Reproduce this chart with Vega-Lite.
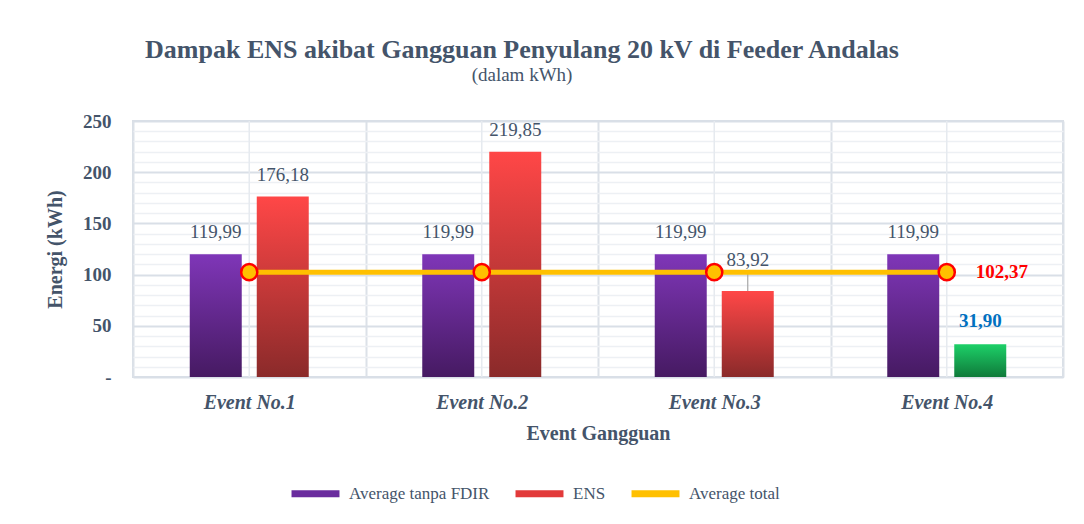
{
  "$schema": "https://vega.github.io/schema/vega-lite/v6.json",
  "width": 930,
  "height": 256,
  "autosize": {"type": "none"},
  "padding": {"left": 133, "top": 121, "right": 21, "bottom": 147},
  "background": "white",
  "config": {
    "locale": {"number": {"decimal": ",", "thousands": ".", "grouping": [3], "currency": ["", ""]}},
    "font": "Liberation Serif",
    "view": {"stroke": "#D9DEE6", "strokeWidth": 2},
    "title": {"font": "Liberation Serif", "color": "#44546A"}
  },
  "title": {
    "text": "Dampak ENS akibat Gangguan Penyulang 20 kV di Feeder Andalas",
    "subtitle": "(dalam kWh)",
    "fontSize": 26,
    "fontWeight": "bold",
    "subtitleFontSize": 19,
    "subtitleColor": "#44546A",
    "subtitleFont": "Liberation Serif",
    "subtitlePadding": 3,
    "anchor": "middle",
    "dx": -76,
    "offset": 27
  },
  "datasets": {
    "bars": [
      {"Event": "Event No.1", "Series": "Average tanpa FDIR", "Value": 119.99},
      {"Event": "Event No.1", "Series": "ENS", "Value": 176.18},
      {"Event": "Event No.2", "Series": "Average tanpa FDIR", "Value": 119.99},
      {"Event": "Event No.2", "Series": "ENS", "Value": 219.85},
      {"Event": "Event No.3", "Series": "Average tanpa FDIR", "Value": 119.99},
      {"Event": "Event No.3", "Series": "ENS", "Value": 83.92},
      {"Event": "Event No.4", "Series": "Average tanpa FDIR", "Value": 119.99},
      {"Event": "Event No.4", "Series": "ENS", "Value": 31.90}
    ],
    "avg": [
      {"Event": "Event No.1", "Series": "Average total", "Value": 102.37},
      {"Event": "Event No.2", "Series": "Average total", "Value": 102.37},
      {"Event": "Event No.3", "Series": "Average total", "Value": 102.37},
      {"Event": "Event No.4", "Series": "Average total", "Value": 102.37}
    ]
  },
  "encoding": {
    "x": {
      "field": "Event",
      "type": "nominal",
      "sort": null,
      "scale": {"paddingInner": 0, "paddingOuter": 0},
      "axis": {
        "title": "Event Gangguan",
        "titleFontSize": 20,
        "titleFontWeight": "bold",
        "titleColor": "#44546A",
        "titlePadding": 11,
        "labelAngle": 0,
        "labelFontSize": 20,
        "labelFontWeight": "bold",
        "labelFontStyle": "italic",
        "labelColor": "#44546A",
        "labelPadding": 15,
        "domain": false,
        "ticks": false,
        "grid": true,
        "tickBand": "extent",
        "gridColor": "#DCE1E8",
        "gridWidth": 2
      }
    },
    "y": {
      "field": "Value",
      "type": "quantitative",
      "scale": {"domain": [0, 250], "nice": false},
      "axis": {
        "title": "Energi (kWh)",
        "titleFontSize": 20,
        "titleFontWeight": "bold",
        "titleColor": "#44546A",
        "titlePadding": 17,
        "values": [0, 10, 20, 30, 40, 50, 60, 70, 80, 90, 100, 110, 120, 130, 140, 150, 160, 170, 180, 190, 200, 210, 220, 230, 240, 250],
        "labelExpr": "datum.value % 50 == 0 ? (datum.value == 0 ? '-' : datum.label) : ''",
        "labelFontSize": 19,
        "labelFontWeight": "bold",
        "labelColor": "#44546A",
        "labelPadding": 22,
        "domain": false,
        "ticks": false,
        "grid": true,
        "gridColor": {"condition": {"test": "datum.value % 50 == 0", "value": "#D9DFE7"}, "value": "#EDF0F4"},
        "gridWidth": {"condition": {"test": "datum.value % 50 == 0", "value": 2}, "value": 1.5}
      }
    }
  },
  "layer": [
    {
      "data": {"name": "avg"},
      "mark": {"type": "rule", "color": "#E6EAEF", "strokeWidth": 1.5},
      "encoding": {"y": null}
    },
    {
      "data": {"name": "bars"},
      "transform": [{"filter": "datum.Series == 'Average tanpa FDIR'"}],
      "mark": {"type": "bar", "color": {"gradient": "linear", "x1": 0, "y1": 0, "x2": 0, "y2": 1, "stops": [{"offset": 0, "color": "#7F36B8"}, {"offset": 1, "color": "#461A62"}]}},
      "encoding": {
        "xOffset": {"field": "Series", "type": "nominal", "scale": {"domain": ["Average tanpa FDIR", "ENS"], "paddingInner": 0.224, "paddingOuter": 0.847}}
      }
    },
    {
      "data": {"name": "bars"},
      "transform": [{"filter": "datum.Series == 'ENS' && datum.Event != 'Event No.4'"}],
      "mark": {"type": "bar", "color": {"gradient": "linear", "x1": 0, "y1": 0, "x2": 0, "y2": 1, "stops": [{"offset": 0, "color": "#FF4747"}, {"offset": 1, "color": "#8A2A2A"}]}},
      "encoding": {"xOffset": {"field": "Series", "type": "nominal"}}
    },
    {
      "data": {"name": "bars"},
      "transform": [{"filter": "datum.Series == 'ENS' && datum.Event == 'Event No.4'"}],
      "mark": {"type": "bar", "color": {"gradient": "linear", "x1": 0, "y1": 0, "x2": 0, "y2": 1, "stops": [{"offset": 0, "color": "#1DD068"}, {"offset": 1, "color": "#0F7A3A"}]}},
      "encoding": {"xOffset": {"field": "Series", "type": "nominal"}}
    },
    {
      "data": {"name": "bars"},
      "transform": [{"filter": "datum.Series == 'ENS' && datum.Event == 'Event No.3'"}],
      "mark": {"type": "rule", "color": "#A6A6A6", "strokeWidth": 1.2, "y2Offset": -17},
      "encoding": {
        "xOffset": {"field": "Series", "type": "nominal"},
        "y2": {"field": "Value"}
      }
    },
    {
      "data": {"name": "bars"},
      "transform": [{"filter": "datum.Series == 'Average tanpa FDIR' || (datum.Event != 'Event No.3' && datum.Event != 'Event No.4')"}],
      "mark": {"type": "text", "dy": -22, "fontSize": 19, "color": "#44546A", "baseline": "middle"},
      "encoding": {
        "xOffset": {"field": "Series", "type": "nominal"},
        "text": {"field": "Value", "type": "quantitative", "format": ".2f"}
      }
    },
    {
      "data": {"name": "bars"},
      "transform": [{"filter": "datum.Series == 'ENS' && datum.Event == 'Event No.3'"}],
      "mark": {"type": "text", "dy": -31, "fontSize": 19, "color": "#44546A", "baseline": "middle"},
      "encoding": {
        "xOffset": {"field": "Series", "type": "nominal"},
        "text": {"field": "Value", "type": "quantitative", "format": ".2f"}
      }
    },
    {
      "data": {"name": "bars"},
      "transform": [{"filter": "datum.Series == 'ENS' && datum.Event == 'Event No.4'"}],
      "mark": {"type": "text", "dy": -23, "fontSize": 19, "fontWeight": "bold", "color": "#0070C0", "baseline": "middle"},
      "encoding": {
        "xOffset": {"field": "Series", "type": "nominal"},
        "text": {"field": "Value", "type": "quantitative", "format": ".2f"}
      }
    },
    {
      "data": {"name": "avg"},
      "mark": {"type": "line", "strokeWidth": 5},
      "encoding": {
        "color": {
          "field": "Series",
          "type": "nominal",
          "scale": {"domain": ["Average tanpa FDIR", "ENS", "Average total"], "range": ["#6A2C9E", "#E23A3A", "#FFC000"]},
          "legend": {
            "title": null,
            "orient": "none",
            "legendX": 155,
            "legendY": 345,
            "direction": "horizontal",
            "symbolType": "M-1,0H1",
            "symbolSize": 2300,
            "symbolStrokeWidth": 7,
            "symbolOpacity": 1,
            "labelFont": "Liberation Serif",
            "labelFontSize": 17,
            "labelColor": "#44546A",
            "labelLimit": 300,
            "labelOffset": 6,
            "columnPadding": 11
          }
        }
      }
    },
    {
      "data": {"name": "avg"},
      "mark": {"type": "point", "filled": true, "fill": "#FFC000", "stroke": "#FF0000", "strokeWidth": 2.5, "size": 260, "opacity": 1}
    },
    {
      "data": {"name": "avg"},
      "transform": [{"filter": "datum.Event == 'Event No.4'"}],
      "mark": {"type": "text", "align": "left", "dx": 29, "fontSize": 19, "fontWeight": "bold", "color": "#FF0000", "baseline": "middle"},
      "encoding": {"text": {"field": "Value", "type": "quantitative", "format": ".2f"}}
    }
  ]
}
